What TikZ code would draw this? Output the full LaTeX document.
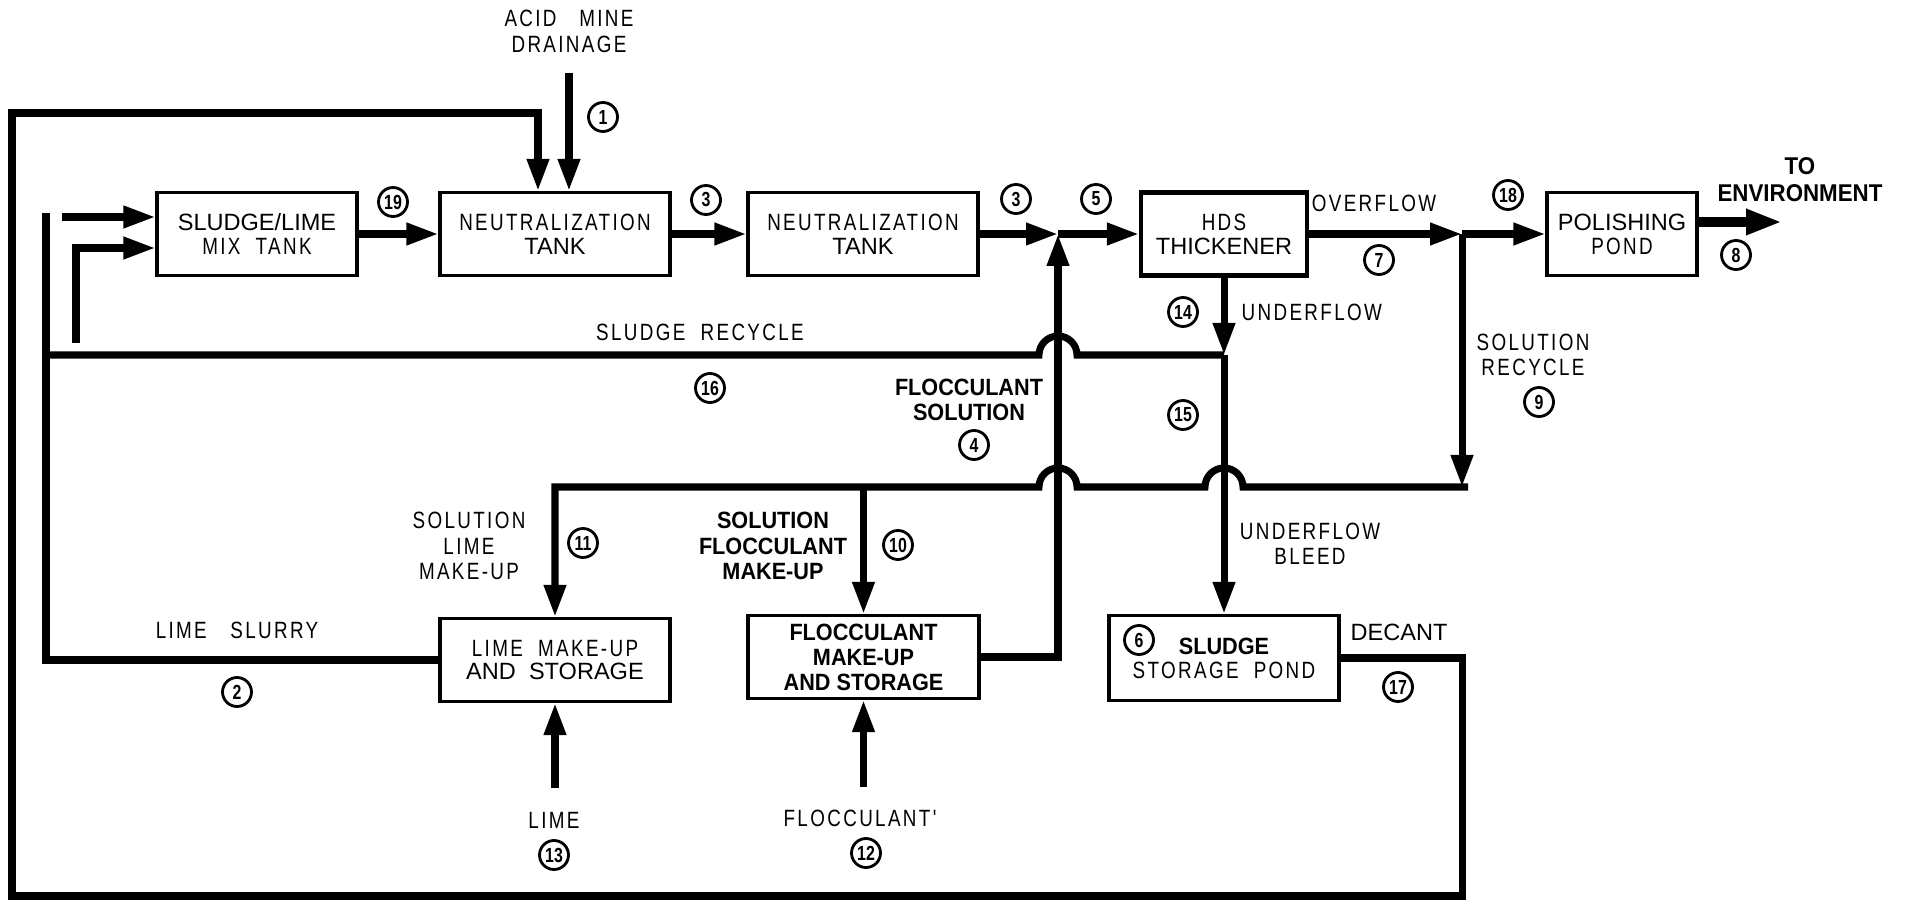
\documentclass[tikz,border=0pt]{standalone}
\usepackage{fontspec}
\setmainfont{Liberation Sans}
\newfontfamily\thinfont[FakeStretch=0.8,LetterSpace=10]{Liberation Sans}
\newfontfamily\boldfont[FakeStretch=0.92]{Liberation Sans Bold}
\newfontfamily\tagfont[FakeStretch=0.78]{Liberation Sans Bold}
\usetikzlibrary{arrows.meta}
\tikzset{
  pipe/.style={line width=2pt},
  flow/.style={pipe, -{Triangle[length=0.32cm,width=0.21cm]}},
  outflow/.style={line width=2.8pt, -{Triangle[length=0.36cm,width=0.24cm]}},
  tank/.style={draw, line width=0.9pt, minimum height=0.83cm, inner sep=0pt, align=center, font=\fontsize{6.7}{6.8}\selectfont},
  tag/.style={draw, circle, line width=0.8pt, minimum size=0.29cm, inner sep=0pt, font=\tagfont\fontsize{5.8}{5.8}\selectfont},
  note/.style={align=center, inner sep=0pt, font=\thinfont\fontsize{6.7}{7.2}\selectfont},
  boldnote/.style={note, font=\boldfont\fontsize{6.7}{7.2}\selectfont},
}
\begin{document}
\begin{tikzpicture}
\useasboundingbox (0,0) rectangle (19.05,9.00);
\node[tank, minimum width=2.00cm] (mix) at (2.57,6.66) {SLUDGE/LIME\\{\thinfont MIX\ \ TANK}};
\node[tank, minimum width=2.30cm] (neutA) at (5.55,6.66) {\thinfont NEUTRALIZATION\\TANK};
\node[tank, minimum width=2.30cm] (neutB) at (8.63,6.66) {{\thinfont NEUTRALIZATION}\\TANK};
\node[tank, minimum width=1.66cm, line width=1.2pt] (hds) at (12.24,6.66) {{\thinfont HDS}\\THICKENER};
\node[tank, minimum width=1.50cm] (polish) at (16.22,6.66) {POLISHING\\{\thinfont POND}};
\node[tank, minimum width=2.30cm] (limebox) at (5.55,2.40) {{\thinfont LIME\ \ MAKE-UP}\\AND\ \ STORAGE};
\node[tank, minimum width=2.31cm, font=\boldfont\fontsize{6.7}{7.1}\selectfont] (flocbox) at (8.635,2.43) {FLOCCULANT\\MAKE-UP\\AND STORAGE};
\node[tank, minimum width=2.30cm, minimum height=0.85cm] (pond) at (12.24,2.42) {{\boldfont SLUDGE}\\{\thinfont STORAGE\ \ POND}};
\coordinate (jfloc) at (10.58,6.66);
\coordinate (jover) at (14.62,6.66);
\coordinate (envout) at (17.82,6.78);
\coordinate (amd) at (5.69,8.27);
\coordinate (dcorner) at (14.62,0.04);
\coordinate (tcorner) at (0.12,7.87);
\coordinate (slurry) at (0.46,6.87);
\coordinate (feedA) at (0.62,6.83);
\coordinate (feedB) at (0.76,5.57);
\coordinate (usplit) at (12.24,5.45);
\coordinate (srec) at (14.62,4.13);
\coordinate (limein) at (5.55,1.12);
\coordinate (flocin) at (8.635,1.13);
\draw[flow] (mix.east) -- (neutA.west);
\draw[flow] (neutA.east) -- (neutB.west);
\draw[flow] (neutB.east) -- (jfloc);
\draw[flow] (jfloc) -- (hds.west);
\draw[flow] (hds.east) -- (jover);
\draw[flow] (jover) -- (polish.west);
\draw[outflow] (polish.east |- envout) -- (envout);
\draw[flow] (amd) -- (amd |- neutA.north);
\draw[flow] (pond.east) -| (dcorner) -| (tcorner) -| ([xshift=-0.17cm]neutA.north);
\draw[pipe] (limebox.west) -| (slurry);
\draw[flow] (feedA) -- ([yshift=0.17cm]mix.west);
\draw[flow] (feedB) |- ([yshift=-0.14cm]mix.west);
\draw[flow] (hds.south) -- (usplit);
\draw[pipe] (usplit) -- (10.77,5.45) arc[start angle=0, end angle=180, radius=0.19] -- (0.45,5.45);
\draw[flow] (usplit) -- (pond.north);
\draw[flow] (flocbox.east) -| (jfloc);
\draw[flow] (jover) -- (srec);
\draw[flow] (14.68,4.13) -- (12.43,4.13) arc[start angle=0, end angle=180, radius=0.19] -- (10.77,4.13) arc[start angle=0, end angle=180, radius=0.19] -- (5.55,4.13) -- (limebox.north);
\draw[flow] (flocbox.north |- srec) -- (flocbox.north);
\draw[flow] (limein) -- (limebox.south);
\draw[flow] (flocin) -- (flocbox.south);
\node[note] (amdtext) at (5.69,8.685) {ACID\ \ \ MINE\\DRAINAGE};
\node[note] (overtext) at (13.74,6.97) {OVERFLOW};
\node[boldnote, font=\boldfont\fontsize{6.9}{7.6}\selectfont] (envtext) at (18.00,7.20) {TO\\ENVIRONMENT};
\node[note, anchor=west] (undertext) at (12.41,5.88) {UNDERFLOW};
\node[note] (recyctext) at (7.00,5.68) {SLUDGE\ \ RECYCLE};
\node[note] (soltext) at (15.33,5.45) {SOLUTION\\RECYCLE};
\node[boldnote] (floctext) at (9.69,5.00) {FLOCCULANT\\SOLUTION};
\node[note] (limeuptext) at (4.69,3.54) {SOLUTION\\LIME\\MAKE-UP};
\node[boldnote] (flocuptext) at (7.73,3.54) {SOLUTION\\FLOCCULANT\\MAKE-UP};
\node[note] (bleedtext) at (13.10,3.565) {UNDERFLOW\\BLEED};
\node[note] (slurrytext) at (2.37,2.70) {LIME\quad SLURRY};
\node[note] (limetext) at (5.54,0.80) {LIME};
\node[note] (flocintext) at (8.60,0.82) {FLOCCULANT'};
\node[note, font=\fontsize{6.7}{7.2}\selectfont] (decanttext) at (13.99,2.68) {DECANT};
\node[tag] (t1) at (6.03,7.83) {1};
\node[tag] (t19) at (3.93,6.98) {19};
\node[tag] (t3a) at (7.06,7.00) {3};
\node[tag] (t3b) at (10.16,7.01) {3};
\node[tag] (t5) at (10.96,7.01) {5};
\node[tag] (t18) at (15.08,7.05) {18};
\node[tag] (t7) at (13.79,6.40) {7};
\node[tag] (t8) at (17.36,6.45) {8};
\node[tag] (t14) at (11.83,5.88) {14};
\node[tag] (t16) at (7.10,5.12) {16};
\node[tag] (t15) at (11.83,4.85) {15};
\node[tag] (t9) at (15.39,4.98) {9};
\node[tag] (t4) at (9.74,4.55) {4};
\node[tag] (t11) at (5.83,3.57) {11};
\node[tag] (t10) at (8.98,3.55) {10};
\node[tag] (t2) at (2.37,2.08) {2};
\node[tag] (t17) at (13.98,2.13) {17};
\node[tag] (t6) at (11.39,2.60) {6};
\node[tag] (t13) at (5.54,0.45) {13};
\node[tag] (t12) at (8.66,0.47) {12};
\end{tikzpicture}
\end{document}
